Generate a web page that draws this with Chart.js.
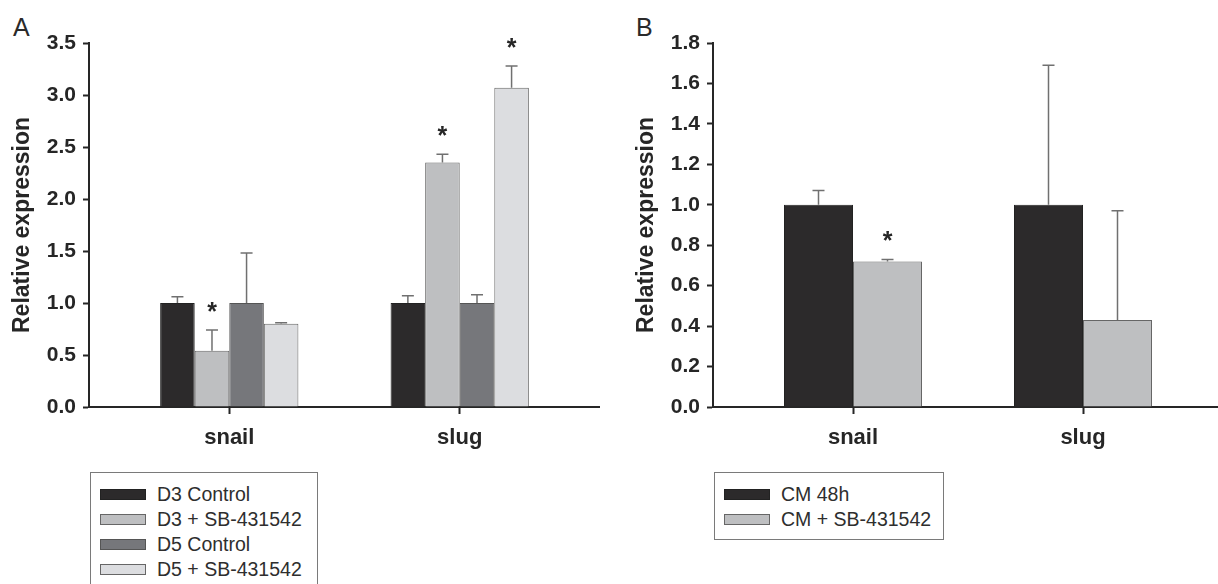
<!DOCTYPE html>
<html>
<head>
<meta charset="utf-8">
<script src="https://cdn.jsdelivr.net/npm/chart.js@4"></script>
<style>
  body { margin: 0; background: #fff; width: 1218px; height: 584px; overflow: hidden; position: relative; font-family: "Liberation Sans", Arial, sans-serif; }
  .panel { position: absolute; top: 0; }
  .letter { position: absolute; font-size: 25px; color: #2a2a2a; }
  .legend { position: absolute; border: 1.5px solid #7a7a7a; box-sizing: border-box; padding: 9px 0 0 9px; }
  .legend .row { height: 25px; display: flex; align-items: center; font-size: 19.5px; color: #2e2e2e; }
  .legend .sw { width: 46px; height: 11px; margin-right: 11px; box-sizing: border-box; border: 1px solid #666; }
</style>
</head>
<body>
<div class="letter" style="left:13px; top:13px;">A</div>
<div class="letter" style="left:636px; top:13px;">B</div>
<div class="panel" style="left:0; width:600px;"><canvas id="chartA" width="600" height="460"></canvas></div>
<div class="panel" style="left:624px; width:594px;"><canvas id="chartB" width="594" height="460"></canvas></div>
<div class="legend" id="legendA" style="left:90px; top:472px; width:228px; height:124px;"></div>
<div class="legend" id="legendB" style="left:714px; top:472px; width:230px; height:68px;"></div>

<script>
// DATA
const categories = ["snail", "slug"];

// panel A
const seriesA = ["D3 Control", "D3 + SB-431542", "D5 Control", "D5 + SB-431542"];
const d3Control = [1.0, 1.0];
const d3SB = [0.54, 2.35];
const d5Control = [1.0, 1.0];
const d5SB = [0.80, 3.07];
const d3ControlErr = [0.06, 0.07];
const d3SBErr = [0.20, 0.08];
const d5ControlErr = [0.48, 0.08];
const d5SBErr = [0.01, 0.21];
const d3SBSig = [true, true];
const d5SBSig = [false, true];
const yMaxA = 3.5;
const yStepA = 0.5;

// panel B
const seriesB = ["CM 48h", "CM + SB-431542"];
const cm48h = [1.0, 1.0];
const cmSB = [0.72, 0.43];
const cm48hErr = [0.07, 0.69];
const cmSBErr = [0.01, 0.54];
const cmSBSig = [true, false];
const yMaxB = 1.8;
const yStepB = 0.2;

const FONT = "'Liberation Sans', Arial, sans-serif";
const INK = "#262626";

const colBlack = "#2c2a2b";
const colLight = "#bebfc1";
const colDark = "#76777b";
const colLightest = "#dcdde0";


function points(vals) {
    return vals.map((v, i) => ({ x: i + 1, y: v }));
}

function makeSet(label, vals, err, sig, fill, edge) {
    return {
        label,
        data: points(vals),
        err,
        sig: sig || vals.map(() => false),
        backgroundColor: fill,
        borderColor: edge,
        borderWidth: 1
    };
}


// error bars (upper only) + significance stars
const errorBars = {
    id: "errorBars",
    afterDatasetsDraw(chart) {
        const ctx = chart.ctx;
        const yScale = chart.scales.y;
        chart.data.datasets.forEach((ds, di) => {
            const meta = chart.getDatasetMeta(di);
            meta.data.forEach((bar, j) => {
                const top = yScale.getPixelForValue(ds.data[j].y + ds.err[j]);
                ctx.save();
                ctx.strokeStyle = "#707070";
                ctx.lineWidth = 1.5;
                ctx.beginPath();
                ctx.moveTo(bar.x, bar.y);
                ctx.lineTo(bar.x, top);
                ctx.moveTo(bar.x - 6, top);
                ctx.lineTo(bar.x + 6, top);
                ctx.stroke();
                if (ds.sig[j]) {
                    ctx.fillStyle = INK;
                    ctx.font = "bold 25px " + FONT;
                    ctx.textAlign = "center";
                    ctx.textBaseline = "alphabetic";
                    ctx.fillText("*", bar.x, top - 10);
                }
                ctx.restore();
            });
        });
    }
};


function makeChart(el, datasets, yMax, yStep, xMax) {
    return new Chart(el, {
        type: "bar",
        data: { datasets },
        options: {
            responsive: false,
            animation: false,
            devicePixelRatio: 1,
            layout: { padding: { top: 43, right: 0, bottom: 0, left: 0 } },
            plugins: { legend: { display: false }, tooltip: { enabled: false } },
            datasets: { bar: { categoryPercentage: 0.6, barPercentage: 1.0 } },
            scales: {
                x: {
                    type: "linear",
                    offset: false,
                    min: 1 - 140 / 230,
                    max: xMax,
                    afterBuildTicks: (s) => { s.ticks = categories.map((c, i) => ({ value: i + 1 })); },
                    afterFit: (s) => { s.height = 53; },
                    grid: { offset: false, drawOnChartArea: false, drawTicks: true, tickLength: 7, tickWidth: 2, tickColor: INK },
                    border: { display: true, color: INK, width: 2 },
                    ticks: {
                        padding: 11,
                        color: INK,
                        font: { family: FONT, size: 22, weight: "bold" },
                        callback: (v) => categories[v - 1]
                    }
                },
                y: {
                    min: 0,
                    max: yMax,
                    afterFit: (s) => { s.width = 89; },
                    grid: { drawOnChartArea: false, drawTicks: true, tickLength: 6, tickWidth: 2, tickColor: INK },
                    border: { display: true, color: INK, width: 2 },
                    ticks: {
                        stepSize: yStep,
                        padding: 7,
                        color: INK,
                        font: { family: FONT, size: 21, weight: "bold" },
                        callback: (v) => v.toFixed(1)
                    },
                    title: {
                        display: true,
                        text: "Relative expression",
                        color: INK,
                        padding: { top: 9, bottom: 0 },
                        font: { family: FONT, size: 23, weight: "bold" }
                    }
                }
            }
        },
        plugins: [errorBars]
    });
}


// legend box built from the chart's own datasets
function buildLegend(chart, boxId) {
    const box = document.getElementById(boxId);
    chart.data.datasets.forEach((ds) => {
        const row = document.createElement("div");
        row.className = "row";
        const sw = document.createElement("span");
        sw.className = "sw";
        sw.style.background = ds.backgroundColor;
        sw.style.borderColor = ds.borderColor;
        const txt = document.createElement("span");
        txt.textContent = ds.label;
        row.appendChild(sw);
        row.appendChild(txt);
        box.appendChild(row);
    });
}


const chartA = makeChart(document.getElementById("chartA"), [
    makeSet(seriesA[0], d3Control, d3ControlErr, null, colBlack, "#222"),
    makeSet(seriesA[1], d3SB, d3SBErr, d3SBSig, colLight, "#666"),
    makeSet(seriesA[2], d5Control, d5ControlErr, null, colDark, "#555"),
    makeSet(seriesA[3], d5SB, d5SBErr, d5SBSig, colLightest, "#666")
], yMaxA, yStepA, 2 + 140 / 230);

const chartB = makeChart(document.getElementById("chartB"), [
    makeSet(seriesB[0], cm48h, cm48hErr, null, colBlack, "#222"),
    makeSet(seriesB[1], cmSB, cmSBErr, cmSBSig, colLight, "#666")
], yMaxB, yStepB, 2 + 135 / 230);

buildLegend(chartA, "legendA");
buildLegend(chartB, "legendB");
</script>
</body>
</html>
